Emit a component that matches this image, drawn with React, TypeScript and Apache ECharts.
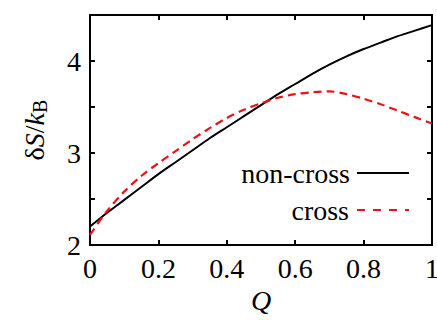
import React, { useEffect, useRef } from "react";
import * as echarts from "echarts";

const qValues = [0, 0.05, 0.1, 0.15, 0.2, 0.25, 0.3, 0.35, 0.4, 0.45, 0.5, 0.55, 0.6, 0.65, 0.7, 0.75, 0.8, 0.85, 0.9, 0.95, 1.0];
const nonCross = [2.2, 2.35, 2.49, 2.63, 2.77, 2.9, 3.03, 3.16, 3.28, 3.4, 3.52, 3.64, 3.75, 3.86, 3.96, 4.05, 4.13, 4.2, 4.27, 4.33, 4.39];
const cross = [2.11, 2.37, 2.58, 2.75, 2.89, 3.02, 3.15, 3.27, 3.38, 3.47, 3.54, 3.6, 3.64, 3.66, 3.67, 3.64, 3.59, 3.53, 3.46, 3.39, 3.32];
const seriesNames = ["non-cross", "cross"];

const FONT = "Liberation Serif";
const RED = "#e8121b";

function makeOption() {
  const axisCommon = {
    type: "value" as const,
    axisLine: { show: true, onZero: false, lineStyle: { color: "#000", width: 2 } },
    axisTick: { show: true, inside: true, length: 5, lineStyle: { color: "#000", width: 2 } },
    splitLine: { show: false },
  };
  return {
    animation: false,
    grid: { left: 90, right: 5, top: 15, bottom: 75, containLabel: false, outerBoundsMode: "none" },
    xAxis: [
      {
        ...axisCommon,
        min: 0,
        max: 1,
        interval: 0.2,
        position: "bottom",
        name: "Q",
        nameLocation: "middle",
        nameGap: 40,
        nameTextStyle: { fontFamily: FONT, fontSize: 28, fontStyle: "italic", color: "#000" },
        axisLabel: { fontFamily: FONT, fontSize: 28, color: "#000", margin: 9 },
      },
      { ...axisCommon, min: 0, max: 1, interval: 0.2, position: "top", axisLabel: { show: false } },
    ],
    yAxis: [
      {
        ...axisCommon,
        min: 2,
        max: 4.5,
        interval: 0.5,
        position: "left",
        name: "{d|δ}{i|S}{d|/}{i|k}{s|B}",
        nameLocation: "middle",
        nameRotate: 90,
        nameGap: 40,
        nameTextStyle: {
          color: "#000",
          rich: {
            d: { fontFamily: FONT, fontSize: 28, color: "#000" },
            i: { fontFamily: FONT, fontSize: 28, fontStyle: "italic", color: "#000" },
            s: { fontFamily: FONT, fontSize: 20, color: "#000", padding: [12, 0, 0, 0] },
          },
        },
        axisLabel: {
          fontFamily: FONT,
          fontSize: 28,
          color: "#000",
          margin: 9,
          formatter: (val: number) => (Number.isInteger(val) ? String(val) : ""),
        },
      },
      { ...axisCommon, min: 2, max: 4.5, interval: 0.5, position: "right", axisLabel: { show: false } },
    ],
    graphic: [
      {
        type: "text",
        style: { text: seriesNames[0], x: 350, y: 173, align: "right", verticalAlign: "middle", textAlign: "right", textVerticalAlign: "middle", fontFamily: FONT, fontSize: 28, fill: "#000" },
      },
      {
        type: "text",
        style: { text: seriesNames[1], x: 349, y: 210, align: "right", verticalAlign: "middle", textAlign: "right", textVerticalAlign: "middle", fontFamily: FONT, fontSize: 28, fill: "#000" },
      },
      { type: "line", shape: { x1: 357, y1: 173, x2: 409, y2: 173 }, style: { stroke: "#000", lineWidth: 2 } },
      { type: "line", shape: { x1: 357, y1: 210, x2: 409, y2: 210 }, style: { stroke: RED, lineWidth: 2.2, lineDash: [8, 8] } },
    ],
    series: [
      {
        name: seriesNames[0],
        type: "line",
        data: qValues.map((q, i) => [q, nonCross[i]]),
        smooth: 0.3,
        symbol: "none",
        lineStyle: { color: "#000", width: 2 },
        itemStyle: { color: "#000" },
      },
      {
        name: seriesNames[1],
        type: "line",
        data: qValues.map((q, i) => [q, cross[i]]),
        smooth: 0.3,
        symbol: "none",
        lineStyle: { color: RED, width: 2.2, type: [8, 5] },
        itemStyle: { color: RED },
      },
    ],
  };
}

function Chart() {
  const ref = useRef<HTMLDivElement>(null);
  useEffect(() => {
    const chart = echarts.init(ref.current!, null, { renderer: "svg" });
    chart.setOption(makeOption() as any);
    return () => chart.dispose();
  }, []);
  return <div ref={ref} style={{ width: 437, height: 320 }} />;
}

export default function App() {
  useEffect(() => {
    document.body.style.margin = "0";
  }, []);
  return (
    <div style={{ width: 437, height: 320, lineHeight: 0 }}>
      <Chart />
    </div>
  );
}
